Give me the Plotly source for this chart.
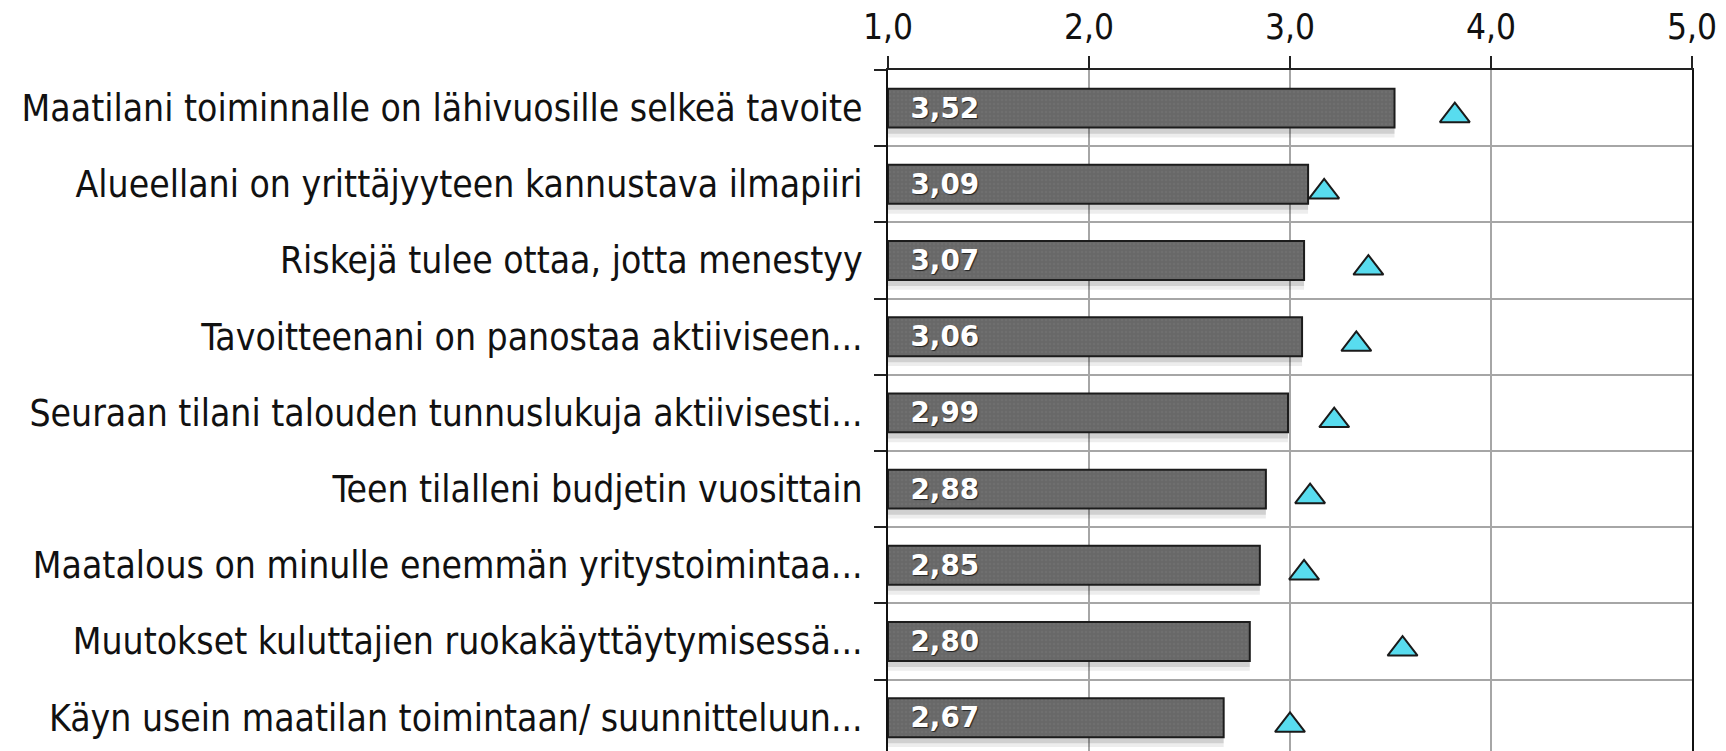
import plotly.graph_objects as go

categories = [
    "Maatilani toiminnalle on lähivuosille selkeä tavoite",
    "Alueellani on yrittäjyyteen kannustava ilmapiiri",
    "Riskejä tulee ottaa, jotta menestyy",
    "Tavoitteenani on panostaa aktiiviseen...",
    "Seuraan tilani talouden tunnuslukuja aktiivisesti...",
    "Teen tilalleni budjetin vuosittain",
    "Maatalous on minulle enemmän yritystoimintaa...",
    "Muutokset kuluttajien ruokakäyttäytymisessä...",
    "Käyn usein maatilan toimintaan/ suunnitteluun...",
]
bar_values = [3.52, 3.09, 3.07, 3.06, 2.99, 2.88, 2.85, 2.80, 2.67]
marker_values = [3.82, 3.17, 3.39, 3.33, 3.22, 3.10, 3.07, 3.56, 3.00]
x_ticks = [1, 2, 3, 4, 5]
x_tick_labels = ["1,0", "2,0", "3,0", "4,0", "5,0"]
scale_min = 1

bar_len = [v - scale_min for v in bar_values]
bar_text = ["\u00a0\u00a0" + f"{v:.2f}".replace(".", ",") for v in bar_values]

LABEL_FONT = "DejaVu Sans Condensed, DejaVu Sans, sans-serif"

fig = go.Figure()

# soft shadow under bars (two layers to fake a gradient)
for off, alpha in [(0.13, 0.07), (0.08, 0.12)]:
    fig.add_trace(go.Bar(
        y=categories, x=bar_len, base=scale_min, orientation="h",
        width=0.51, offset=-0.255 + off,
        marker=dict(color=f"rgba(0,0,0,{alpha})", line=dict(width=0)),
        hoverinfo="skip", showlegend=False,
    ))

fig.add_trace(go.Bar(
    y=categories, x=bar_len, base=scale_min, orientation="h",
    width=0.51, offset=-0.255,
    marker=dict(color="#6a6a6a",
                line=dict(color="#1c1c1c", width=2),
                pattern=dict(shape=".", fgcolor="#767676", bgcolor="#686868",
                             size=4, solidity=0.3)),
    text=bar_text, textposition="inside", insidetextanchor="start",
    textangle=0,
    textfont=dict(family="DejaVu Sans, sans-serif", size=28, color="white",
                  weight="bold", shadow="1px 1px 1px #222"),
    hoverinfo="skip", showlegend=False,
))

fig.add_trace(go.Scatter(
    y=categories, x=marker_values, mode="markers", yaxis="y2",
    marker=dict(symbol="triangle-up", size=26, color="#58dcef",
                line=dict(color="#1a1a1a", width=2)),
    hoverinfo="skip", showlegend=False,
))

bottom = 8.437
fig.update_layout(
    width=1718, height=743,
    margin=dict(l=880, r=34, t=62, b=0, autoexpand=False),
    paper_bgcolor="white", plot_bgcolor="white",
    barmode="overlay", bargap=0.49,
    xaxis=dict(
        range=[1, 5], side="top", tickvals=x_ticks, ticktext=x_tick_labels,
        ticks="outside", ticklen=12, tickwidth=2, tickcolor="#222",
        showline=True, linecolor="#222", linewidth=2,
        showgrid=True, gridcolor="#a6a6a6", gridwidth=2,
        zeroline=False, ticklabelstandoff=3, automargin=False,
        tickfont=dict(family=LABEL_FONT, size=35, color="#111"),
        fixedrange=True,
    ),
    yaxis=dict(
        type="category", range=[bottom, -0.5], tickson="boundaries",
        ticks="outside", ticklen=12, tickwidth=2, tickcolor="#222",
        showline=True, mirror=True, linecolor="#111", linewidth=2,
        showgrid=True, gridcolor="#a6a6a6", gridwidth=2,
        ticklabelstandoff=16, automargin=False,
        tickfont=dict(family=LABEL_FONT, size=37, color="#111"),
        fixedrange=True,
    ),
    yaxis2=dict(
        type="category", overlaying="y", range=[bottom - 0.1, -0.6],
        visible=False, showgrid=False, fixedrange=True,
    ),
)

fig.write_html("out.html")
